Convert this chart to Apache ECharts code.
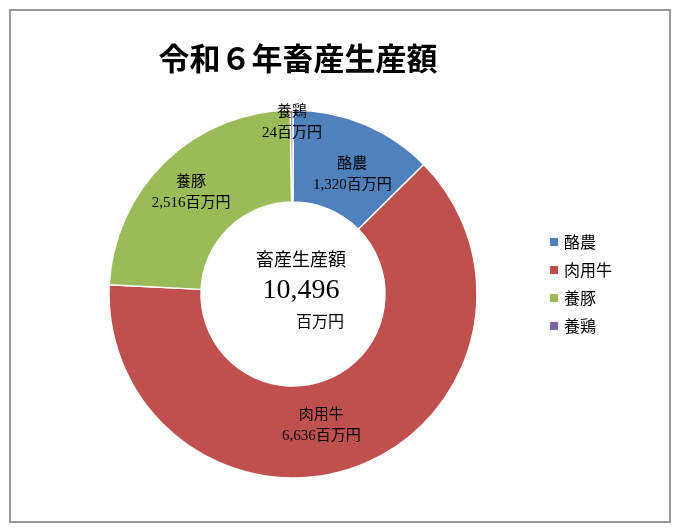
<!DOCTYPE html>
<html>
<head>
<meta charset="utf-8">
<script src="https://cdn.jsdelivr.net/npm/echarts@6/dist/echarts.min.js"></script>
<style>
html, body { margin: 0; padding: 0; background: #fff; }
#main { width: 680px; height: 532px; }
</style>
</head>
<body>
<div id="main"></div>
<script>
// 品目と産出額（百万円）
var categories = ['酪農', '肉用牛', '養豚', '養鶏'];
var values = [1320, 6636, 2516, 24];
var colors = ['#4F81BD', '#C0504D', '#9BBB59', '#8064A2'];
var total = 10496;

// ラベル位置の微調整
var labelOffsets = {
    '酪農': [5, 11],
    '肉用牛': [-22, 0],
    '養豚': [-4, 0],
    '養鶏': [0, -30]
};

var serif = '"Liberation Serif", "DejaVu Serif", "Noto Sans CJK JP", serif';

function fmt(n) {
    return String(n).replace(/\B(?=(\d{3})+(?!\d))/g, ',');
}

var pieData = categories.map(function (name, i) {
    return {
        name: name,
        value: values[i],
        itemStyle: { color: colors[i] },
        label: { offset: labelOffsets[name] }
    };
});

var myChart = echarts.init(document.getElementById('main'));
myChart.setOption({
    backgroundColor: '#fff',
    animation: false,
    title: [{
        text: '令和６年畜産生産額',
        left: 293,
        top: 41,
        textAlign: 'center',
        textStyle: { fontFamily: serif, fontSize: 31, fontWeight: 'bold', color: '#000' }
    }, {
        text: '畜産生産額',
        left: 296,
        top: 247,
        textAlign: 'center',
        textStyle: { fontFamily: serif, fontSize: 18, fontWeight: 'normal', color: '#000' }
    }, {
        text: fmt(total),
        left: 296,
        top: 272,
        textAlign: 'center',
        textStyle: { fontFamily: serif, fontSize: 28, fontWeight: 'normal', color: '#000' }
    }, {
        text: '百万円',
        left: 315,
        top: 310,
        textAlign: 'center',
        textStyle: { fontFamily: serif, fontSize: 16, fontWeight: 'normal', color: '#000' }
    }],
    legend: {
        orient: 'vertical',
        left: 543,
        top: 229,
        itemWidth: 10,
        itemHeight: 10,
        itemGap: 12,
        icon: 'rect',
        data: categories,
        textStyle: { fontSize: 16, color: '#000', fontFamily: '"Noto Sans CJK JP", sans-serif' }
    },
    graphic: [{
        type: 'rect',
        shape: { x: 10, y: 10, width: 660, height: 512 },
        style: { fill: 'none', stroke: '#9a9a9a', lineWidth: 2 },
        silent: true
    }],
    series: [{
        type: 'pie',
        center: [293, 294],
        radius: [92, 184],
        startAngle: 90,
        clockwise: true,
        avoidLabelOverlap: false,
        itemStyle: { borderColor: '#fff', borderWidth: 1.5 },
        label: {
            show: true,
            position: 'inside',
            fontFamily: serif,
            fontSize: 15,
            lineHeight: 21,
            color: '#000',
            formatter: function (p) {
                return p.name + '\n' + fmt(p.value) + '百万円';
            }
        },
        labelLine: { show: false },
        data: pieData
    }]
});
</script>
</body>
</html>
